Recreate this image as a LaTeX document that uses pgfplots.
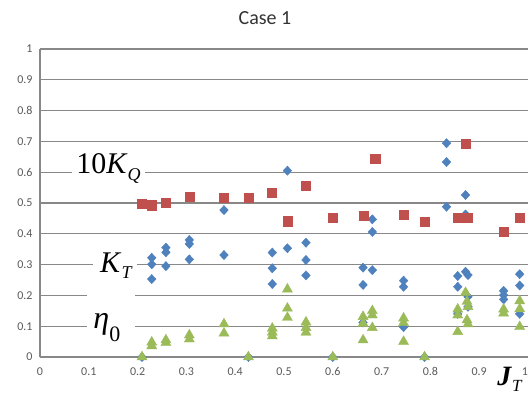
\documentclass[border=0pt]{standalone}
\usepackage{pgfplots}
\pgfplotsset{compat=1.18}
\usepackage{fontspec}
\setmainfont{Carlito}
\newfontfamily\tnr{Liberation Serif}
\definecolor{gridgray}{HTML}{888888}
\definecolor{ticktext}{HTML}{595959}
\definecolor{bluem}{HTML}{4F81BD}
\definecolor{redm}{HTML}{C0504D}
\definecolor{greenm}{HTML}{9BBB59}
\begin{document}
\begin{tikzpicture}
\begin{axis}[
  scale only axis, width=488pt, height=308pt,
  xmin=0, xmax=1, ymin=0, ymax=1,
  xtick={0,0.1,0.2,0.3,0.4,0.5,0.6,0.7,0.8,0.9,1},
  xticklabels={0,0.1,0.2,0.3,0.4,0.5,0.6,0.7,0.8,0.9,\makebox[0pt][r]{1}},
  ytick={0,0.1,0.2,0.3,0.4,0.5,0.6,0.7,0.8,0.9,1},
  yticklabels={0,0.1,0.2,0.3,0.4,0.5,0.6,0.7,0.8,0.9,1},
  axis x line=bottom, axis y line=left,
  axis line style={-, draw=gridgray, line width=1.3pt},
  ymajorgrids, grid style={draw=gridgray, line width=1.3pt},
  major tick length=0pt,
  tick label style={font=\fontsize{12}{13}\selectfont, text=ticktext},
  xticklabel style={yshift=-7pt},
  yticklabel style={xshift=-4pt},
  clip=false,
]
\addplot[only marks, mark=diamond*, mark size=4.6pt, mark options={draw=bluem, fill=bluem, xscale=1.25}] table {
0.209 0
0.229 0.322
0.229 0.301
0.229 0.253
0.258 0.355
0.258 0.340
0.258 0.295
0.306 0.380
0.306 0.367
0.306 0.317
0.377 0.477
0.377 0.331
0.427 0
0.476 0.339
0.476 0.288
0.476 0.237
0.507 0.605
0.507 0.353
0.545 0.371
0.545 0.315
0.545 0.265
0.600 0
0.662 0.290
0.662 0.234
0.662 0.112
0.681 0.447
0.681 0.406
0.681 0.282
0.745 0.248
0.745 0.228
0.745 0.097
0.788 0
0.833 0.694
0.833 0.633
0.833 0.488
0.856 0.263
0.856 0.228
0.856 0.140
0.872 0.526
0.872 0.463
0.872 0.277
0.877 0.266
0.877 0.196
0.877 0.163
0.950 0.215
0.950 0.201
0.950 0.187
0.983 0.269
0.983 0.232
0.983 0.140
};
\addplot[only marks, mark=square*, mark size=4.6pt, mark options={draw=redm, fill=redm}] table {
0.209 0.499
0.229 0.493
0.258 0.501
0.306 0.520
0.377 0.517
0.427 0.517
0.475 0.533
0.507 0.441
0.545 0.556
0.600 0.452
0.663 0.458
0.687 0.643
0.745 0.461
0.788 0.439
0.856 0.452
0.872 0.692
0.877 0.452
0.950 0.407
0.983 0.452
};
\addplot[only marks, mark=triangle*, mark size=5.8pt, mark options={draw=greenm, fill=greenm}] table {
0.209 0
0.229 0.048
0.229 0.036
0.258 0.055
0.258 0.046
0.306 0.071
0.306 0.058
0.377 0.107
0.377 0.077
0.427 0
0.476 0.093
0.476 0.080
0.476 0.068
0.507 0.220
0.507 0.158
0.507 0.128
0.545 0.113
0.545 0.095
0.545 0.080
0.600 0
0.662 0.131
0.662 0.109
0.662 0.055
0.681 0.150
0.681 0.136
0.681 0.095
0.745 0.126
0.745 0.111
0.745 0.050
0.788 0
0.856 0.155
0.856 0.136
0.856 0.082
0.872 0.209
0.875 0.180
0.877 0.163
0.875 0.120
0.877 0.107
0.950 0.155
0.950 0.142
0.983 0.182
0.983 0.156
0.983 0.098
};
\fill[white] (axis cs:0.066,0.56) rectangle (axis cs:0.215,0.68);
\fill[white] (axis cs:0.109,0.25) rectangle (axis cs:0.199,0.35);
\fill[white] (axis cs:0.096,0.05) rectangle (axis cs:0.195,0.23);
\node[anchor=base west, inner sep=0pt] at (axis cs:0.074,0.597) {\tnr\fontsize{30}{30}\selectfont 10\textit{K}\raisebox{-7pt}{\fontsize{18}{18}\selectfont\textit{Q}}};
\node[anchor=base west, inner sep=0pt] at (axis cs:0.123,0.273) {\tnr\fontsize{30}{30}\selectfont \textit{K}\raisebox{-6pt}{\fontsize{18}{18}\selectfont\textit{T}}};
\node[anchor=base west, inner sep=0pt] at (axis cs:0.109,0.094) {\tnr\fontsize{32}{32}\selectfont \textit{η}\raisebox{-13pt}{\fontsize{22}{22}\selectfont 0}};
\node[anchor=base west, inner sep=0pt] at (axis cs:0.937,-0.091) {\tnr\fontsize{28}{28}\selectfont \textbf{\textit{J}}\raisebox{-6pt}{\fontsize{17}{17}\selectfont\textit{T}}};
\end{axis}
\node[font=\fontsize{20}{22}\selectfont, text=black!80] at ([xshift=225pt,yshift=339pt]current axis.south west) {Case 1};
\pgfresetboundingbox
\path ([xshift=-40pt,yshift=-39pt]current axis.south west) rectangle ([xshift=1pt,yshift=49pt]current axis.north east);
\end{tikzpicture}
\end{document}
